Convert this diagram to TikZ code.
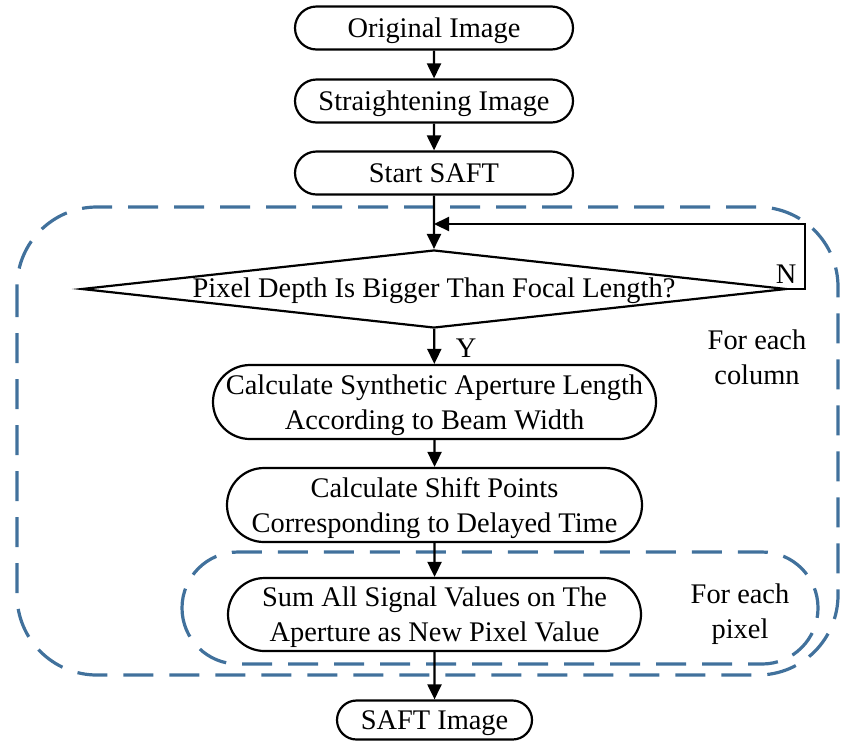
\documentclass[tikz,border=0pt]{standalone}
\usepackage{fontspec}
\setmainfont{Liberation Serif}
\usepackage{tikz}
\usetikzlibrary{shapes.misc,shapes.geometric,arrows.meta}
\definecolor{dashblue}{RGB}{65,113,156}

\begin{document}
\begin{tikzpicture}[x=0.5pt, y=-0.5pt, font=\fontsize{14.2}{17.5}\selectfont,
	term/.style={draw, line width=1.1pt, rounded rectangle, align=center, inner sep=0pt, text depth=0pt},
	flow/.style={-{Triangle[length=7.5pt, width=7pt]}, line width=1.1pt},
	group/.style={draw=dashblue, line width=1.6pt, dash pattern=on 15pt off 8pt}]
	\useasboundingbox (0,0) rectangle (844,740);
	\draw[group, rounded corners=40pt] (17,207) rectangle (838,675);
	\draw[group, rounded corners=28pt] (182,552) rectangle (818,664);
	\node[term, minimum width=139pt, minimum height=21.5pt] (orig) at (434,28) {Original Image};
	\node[term, minimum width=139pt, minimum height=21.5pt] (straight) at (434,101) {Straightening Image};
	\node[term, minimum width=139pt, minimum height=21.5pt] (start) at (434,173) {Start SAFT};
	\node[draw, diamond, aspect=9, inner sep=0pt, text height=10pt, text depth=2pt, line width=1.1pt, minimum width=352.5pt, minimum height=39pt] (depth) at (434,289) {Pixel Depth Is Bigger Than Focal Length?};
	\node[term, minimum width=221.5pt, minimum height=37pt] (aperture) at (434.5,402) {Calculate Synthetic Aperture Length\\According to Beam Width};
	\node[term, minimum width=207.5pt, minimum height=37pt] (shift) at (434.5,505) {Calculate Shift Points\\Corresponding to Delayed Time};
	\node[term, minimum width=206.5pt, minimum height=36.5pt] (sum) at (434.5,614.5) {Sum All Signal Values on The\\Aperture as New Pixel Value};
	\node[term, minimum width=97.5pt, minimum height=19.5pt] (saft) at (434.5,720) {SAFT Image};
	\coordinate (back) at (805,224);
	\node (no) at (786,274) {N};
	\node (yes) at (466,348) {Y};
	\node[align=center] (column) at (757,357) {For each\\column};
	\node[align=center] (pixel) at (740,614) {For each\\pixel};
	\draw[flow] (orig) -- (straight);
	\draw[flow] (straight) -- (start);
	\draw[flow] (start) -- (depth);
	\draw[flow] (depth) -- (aperture);
	\draw[flow] (aperture) -- (shift);
	\draw[flow] (shift) -- (sum);
	\draw[flow] (sum) -- (saft);
	\draw[flow] (depth.east) -| (back) -- (back -| depth.north);
\end{tikzpicture}
\end{document}
